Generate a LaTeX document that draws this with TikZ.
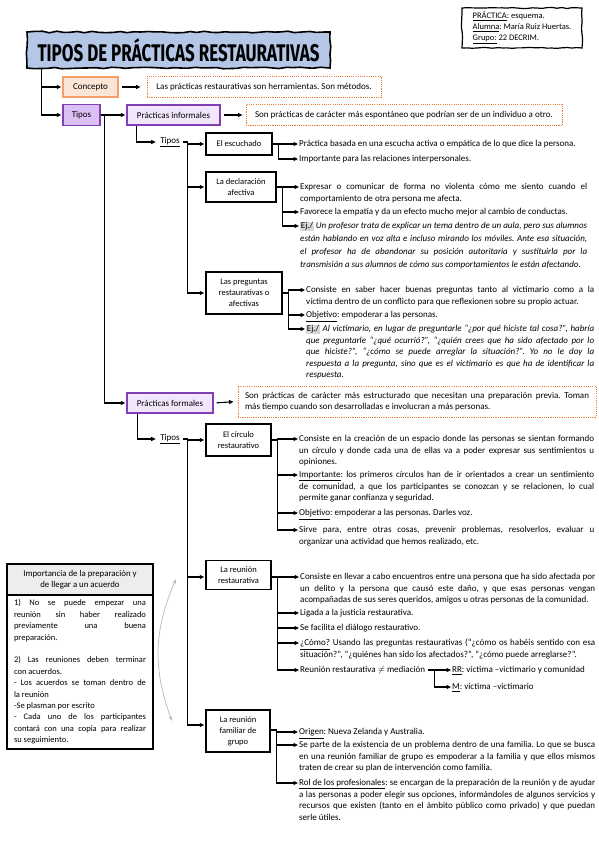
\documentclass[tikz,border=0pt]{standalone}
\usepackage{fontspec}
\setmainfont{Carlito}
\newfontfamily\fuentetitulo{Fira Sans}
\usetikzlibrary{arrows.meta,positioning,decorations.pathmorphing}

\definecolor{azultitulo}{RGB}{180,199,231}
\definecolor{naranjafondo}{RGB}{251,229,214}
\definecolor{naranjaborde}{RGB}{244,160,100}
\definecolor{naranjapunto}{RGB}{237,125,49}
\definecolor{moradofondo}{RGB}{220,192,245}
\definecolor{lilafondo}{RGB}{242,230,252}
\definecolor{moradoborde}{RGB}{128,64,180}
\definecolor{grisclaro}{RGB}{237,237,237}
\definecolor{grisej}{RGB}{215,215,215}

\newcommand{\ejemplo}{{\setlength{\fboxsep}{0.7pt}\colorbox{grisej}{Ej./}}}
\frenchspacing

\tikzset{
  flecha/.style={->, line width=1.1pt, shorten >=1pt},
  mano/.style={decorate, decoration={random steps, segment length=5pt, amplitude=0.5pt}},
  titulo/.style={draw, fill=azultitulo, line width=1.6pt, minimum width=303pt, minimum height=36pt, inner sep=0pt, decorate, decoration={random steps, segment length=7pt, amplitude=0.8pt}},
  datos/.style={draw, line width=1.2pt, mano, align=left, minimum width=120pt, minimum height=40pt, font=\fontsize{8.5}{11}\selectfont},
  caja/.style={draw, line width=1.4pt, fill=white, align=center, inner sep=2pt, font=\fontsize{8.5}{11}\selectfont},
  concep/.style={draw=naranjaborde, fill=naranjafondo, line width=1.4pt, minimum width=55pt, minimum height=20pt},
  tipo/.style={draw=moradoborde, fill=moradofondo, line width=1.4pt, minimum width=37pt, minimum height=21pt},
  practica/.style={draw=moradoborde, fill=lilafondo, line width=1.4pt, minimum height=20pt},
  punteada/.style={draw=naranjapunto, line width=1pt, dash pattern=on 1.1pt off 1.1pt, inner xsep=7pt, minimum height=21pt},
  rama/.style={anchor=base west, inner sep=0pt},
  parrafo/.style={rama, text width=#1, align=justify},
  cabecera/.style={draw, line width=1.2pt, fill=grisclaro, outer sep=0pt, minimum width=146pt, minimum height=31pt, align=center, font=\fontsize{8.8}{11}\selectfont},
  cuerpo/.style={draw, line width=1.2pt, outer sep=0pt, text width=132pt, inner xsep=7pt, minimum height=154pt, align=justify, font=\fontsize{8.5}{11.4}\selectfont}
}

\begin{document}
\begin{tikzpicture}[x=1pt,y=-1pt,>={Triangle[length=4.5pt,width=4pt]},font=\fontsize{9}{11.5}\selectfont]
\pgfmathsetseed{7}
\fill[white] (0,0) rectangle (599,848);
\useasboundingbox (0,0) rectangle (599,848);

% cabecera
\node[datos] (datos) at (522,28) {\underline{PRÁCTICA}: esquema.\\\underline{Alumna}: María Ruiz Huertas.\\\underline{Grupo:} 22 DECRIM.};
\node[titulo] (titulo) at (178.5,50) {\resizebox{282pt}{23pt}{\fuentetitulo\bfseries TIPOS DE PRÁCTICAS RESTAURATIVAS}};

% primer nivel
\node[concep] (concepto) at (90.5,87) {Concepto};
\node[tipo] (tipos) at (81.5,115) {Tipos};
\node[punteada, minimum width=234pt] (defconcepto) at (264,87) {Las prácticas restaurativas son herramientas. Son métodos.};
\node[practica, minimum width=93pt] (informales) at (173.5,115) {Prácticas informales};
\node[punteada, minimum width=316pt] (definformales) at (404,115) {Son prácticas de carácter más espontáneo que podrían ser de un individuo a otro.};
\node[practica, minimum width=86pt] (formales) at (170,403) {Prácticas formales};
\node[punteada, text width=344pt, align=justify, minimum height=31pt] (defformales) at (417,401.5) {Son prácticas de carácter más estructurado que necesitan una preparación previa. Toman\linebreak más tiempo cuando son desarrolladas e involucran a más personas.};

\draw[flecha] ([xshift=15pt]titulo.south west) |- (concepto.west);
\draw[flecha] ([xshift=15pt]titulo.south west) |- (tipos.west);
\draw[flecha, shorten <=3pt, shorten >=6pt] (concepto.east) -- (defconcepto.west);
\draw[flecha] (tipos.east) -- ++(4,0) |- (informales.west);
\draw[flecha] (tipos.east) -- ++(4,0) |- (formales.west);
\draw[flecha, shorten <=3pt, shorten >=3pt] (informales.east) -- (definformales.west);
\draw[flecha, shorten <=3pt, shorten >=4pt] (formales.east) -- (defformales.west);

% practicas informales
\node (tiposinf) at (170,142) {\underline{Tipos}};
\draw[flecha] ([xshift=10pt]informales.south west) |- (tiposinf.west);
\node[caja, minimum width=66pt, minimum height=22pt] (escuchado) at (239,144) {El escuchado};
\node[caja, minimum width=70pt, minimum height=30pt] (declaracion) at (241,187) {La declaración\\afectiva};
\node[caja, minimum width=76pt, minimum height=42pt] (preguntas) at (244,293) {Las preguntas\\restaurativas o\\afectivas};
\draw[flecha] (tiposinf.east) -- ++(4,0) |- (escuchado.west);
\draw[flecha] (tiposinf.east) -- ++(4,0) |- (declaracion.west);
\draw[flecha] (tiposinf.east) -- ++(4,0) |- (preguntas.west);

\node[rama] (esc1) at (299,146.8) {Práctica basada en una escucha activa o empática de lo que dice la persona.};
\node[rama] (esc2) at (299,161.8) {Importante para las relaciones interpersonales.};
\draw[flecha] (escuchado.east) -- ++(6,0) |- ([yshift=2.8pt]esc1.base west);
\draw[flecha] (escuchado.east) -- ++(6,0) |- ([yshift=2.8pt]esc2.base west);

\node[parrafo=287pt] (dec1) at (300,189.8) {Expresar o comunicar de forma no violenta cómo me siento cuando el\linebreak comportamiento de otra persona me afecta.};
\node[rama] (dec2) at (300,214.8) {Favorece la empatía y da un efecto mucho mejor al cambio de conductas.};
\node[parrafo=287pt, font=\fontsize{9}{13}\selectfont] (dec3) at (300,228.8) {\ejemplo\ {\itshape Un profesor trata de explicar un tema dentro de un aula, pero sus alumnos\linebreak están hablando en voz alta e incluso mirando los móviles. Ante esa situación,\linebreak el profesor ha de abandonar su posición autoritaria y sustituirla por la\linebreak transmisión a sus alumnos de cómo sus comportamientos le están afectando.}};
\draw[flecha] (declaracion.east) -- ++(6,0) |- ([yshift=2.8pt]dec1.base west);
\draw[flecha] (declaracion.east) -- ++(6,0) |- ([yshift=2.8pt]dec2.base west);
\draw[flecha] (declaracion.east) -- ++(6,0) |- ([yshift=2.8pt]dec3.base west);

\node[parrafo=288pt] (pre1) at (306,292.8) {Consiste en saber hacer buenas preguntas tanto al victimario como a la\linebreak víctima dentro de un conflicto para que reflexionen sobre su propio actuar.};
\node[rama] (pre2) at (306,317.8) {\underline{Objetivo}: empoderar a las personas.};
\node[parrafo=288pt] (pre3) at (306,331.8) {\ejemplo\ {\itshape Al victimario, en lugar de preguntarle “¿por qué hiciste tal cosa?”, habría\linebreak que preguntarle “¿qué ocurrió?”, “¿quién crees que ha sido afectado por lo\linebreak que hiciste?”, “¿cómo se puede arreglar la situación?”. Yo no le doy la\linebreak respuesta a la pregunta, sino que es el victimario es que ha de identificar la\linebreak respuesta.}};
\draw[flecha] (preguntas.east) -- ++(6,0) |- ([yshift=2.8pt]pre1.base west);
\draw[flecha] (preguntas.east) -- ++(6,0) |- ([yshift=2.8pt]pre2.base west);
\draw[flecha] (preguntas.east) -- ++(6,0) |- ([yshift=2.8pt]pre3.base west);

% practicas formales
\node (tiposfor) at (170,439) {\underline{Tipos}};
\draw[flecha] ([xshift=11pt]formales.south west) |- (tiposfor.west);
\node[caja, minimum width=65pt, minimum height=32pt] (circulo) at (238.5,440) {El círculo\\restaurativo};
\node[caja, minimum width=65pt, minimum height=29pt] (reunion) at (238.5,575) {La reunión\\restaurativa};
\node[caja, minimum width=64pt, minimum height=42pt] (familiar) at (238,731) {La reunión\\familiar de\\grupo};
\draw[flecha] (tiposfor.east) -- ++(4,0) |- (circulo.west);
\draw[flecha] (tiposfor.east) -- ++(4,0) |- ([yshift=-2pt]reunion.west);
\draw[flecha] (tiposfor.east) -- ++(4,0) |- ([yshift=6pt]familiar.west);

\node[parrafo=295pt] (cir1) at (299,441.8) {Consiste en la creación de un espacio donde las personas se sientan formando\linebreak un círculo y donde cada una de ellas va a poder expresar sus sentimientos u\linebreak opiniones.};
\node[parrafo=295pt] (cir2) at (299,477.8) {\underline{Importante}: los primeros círculos han de ir orientados a crear un sentimiento\linebreak de comunidad, a que los participantes se conozcan y se relacionen, lo cual\linebreak permite ganar confianza y seguridad.};
\node[rama] (cir3) at (299,515.8) {\underline{Objetivo}: empoderar a las personas. Darles voz.};
\node[parrafo=295pt] (cir4) at (299,532.8) {Sirve para, entre otras cosas, prevenir problemas, resolverlos, evaluar u\linebreak organizar una actividad que hemos realizado, etc.};
\draw[flecha] (circulo.east) -- ++(6,0) |- ([yshift=2.8pt]cir1.base west);
\draw[flecha] (circulo.east) -- ++(6,0) |- ([yshift=2.8pt]cir2.base west);
\draw[flecha] (circulo.east) -- ++(6,0) |- ([yshift=2.8pt]cir3.base west);
\draw[flecha] (circulo.east) -- ++(6,0) |- ([yshift=2.8pt]cir4.base west);

\node[parrafo=295pt] (reu1) at (300,579.8) {Consiste en llevar a cabo encuentros entre una persona que ha sido afectada por\linebreak un delito y la persona que causó este daño, y que esas personas vengan\linebreak acompañadas de sus seres queridos, amigos u otras personas de la comunidad.};
\node[rama] (reu2) at (300,615.8) {Ligada a la justicia restaurativa.};
\node[rama] (reu3) at (300,630.8) {Se facilita el diálogo restaurativo.};
\node[parrafo=295pt] (reu4) at (300,645.8) {\underline{¿Cómo?} Usando las preguntas restaurativas (“¿cómo os habéis sentido con esa\linebreak situación?”, “¿quiénes han sido los afectados?”, “¿cómo puede arreglarse?”.};
\node[rama] (reu5) at (300,672.8) {Reunión restaurativa $\neq$ mediación};
\node[rama] (rr) at (452,672.8) {\underline{RR}: víctima –victimario y comunidad};
\node[rama] (med) at (452,689.8) {\underline{M}: víctima –victimario};
\draw[flecha] ([yshift=-2pt]reunion.east) -- ++(6,0) |- ([yshift=2.8pt]reu1.base west);
\draw[flecha] ([yshift=-2pt]reunion.east) -- ++(6,0) |- ([yshift=2.8pt]reu2.base west);
\draw[flecha] ([yshift=-2pt]reunion.east) -- ++(6,0) |- ([yshift=2.8pt]reu3.base west);
\draw[flecha] ([yshift=-2pt]reunion.east) -- ++(6,0) |- ([yshift=2.8pt]reu4.base west);
\draw[flecha] ([yshift=-2pt]reunion.east) -- ++(6,0) |- ([yshift=2.8pt]reu5.base west);
\draw[flecha] ([xshift=3pt,yshift=2.8pt]reu5.base east) -- ++(6,0) |- ([yshift=2.8pt]rr.base west);
\draw[flecha] ([xshift=3pt,yshift=2.8pt]reu5.base east) -- ++(6,0) |- ([yshift=2.8pt]med.base west);

\node[rama] (fam1) at (299,734.8) {\underline{Origen}: Nueva Zelanda y Australia.};
\node[parrafo=296pt] (fam2) at (299,747.8) {Se parte de la existencia de un problema dentro de una familia. Lo que se busca\linebreak en una reunión familiar de grupo es empoderar a la familia y que ellos mismos\linebreak traten de crear su plan de intervención como familia.};
\node[parrafo=296pt] (fam3) at (299,785.8) {\underline{Rol de los profesionales}: se encargan de la preparación de la reunión y de ayudar\linebreak a las personas a poder elegir sus opciones, informándoles de algunos servicios y\linebreak recursos que existen (tanto en el ámbito público como privado) y que puedan\linebreak serle útiles.};
\draw[flecha] ([yshift=1pt]familiar.east) -- ++(6,0) |- ([yshift=2.8pt]fam1.base west);
\draw[flecha] ([yshift=1pt]familiar.east) -- ++(6,0) |- ([yshift=2.8pt]fam2.base west);
\draw[flecha] ([yshift=1pt]familiar.east) -- ++(6,0) |- ([yshift=2.8pt]fam3.base west);

% recuadro de la izquierda
\node[cabecera] (importancia) at (80,579.5) {Importancia de la preparación y\\de llegar a un acuerdo};
\node[cuerpo, below=0pt of importancia] (acuerdos) {1) No se puede empezar una\linebreak reunión sin haber realizado\linebreak previamente una buena\linebreak preparación.\par\mbox{}\par
2) Las reuniones deben terminar\linebreak con acuerdos.\par
- Los acuerdos se toman dentro de\linebreak la reunión\par
-Se plasman por escrito\par
- Cada uno de los participantes\linebreak contará con una copia para realizar\linebreak su seguimiento.};
\coordinate (g1) at (172,721);
\coordinate (g2) at (176,579);
\draw[gray!55, line width=0.7pt, {Stealth[length=5pt,width=3.5pt]}-{Stealth[length=5pt,width=3.5pt]}] (g1) to[bend left=22] (g2);
\end{tikzpicture}
\end{document}
